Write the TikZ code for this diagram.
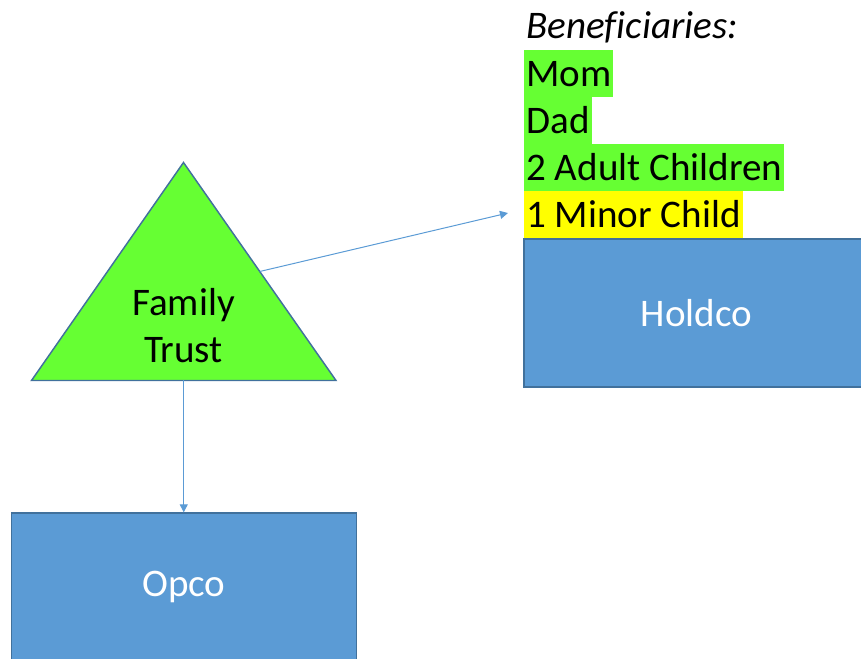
\documentclass[tikz,border=0pt]{standalone}
\usepackage{fontspec}
\setmainfont{Carlito}[Ligatures=NoCommon]
\usetikzlibrary{arrows.meta}
\definecolor{lgreen}{HTML}{66FF33}
\definecolor{boxblue}{HTML}{5B9BD5}
\definecolor{edgeblue}{HTML}{41719C}
\definecolor{hlyellow}{HTML}{FFFF00}
\begin{document}
\begin{tikzpicture}[x=0.75pt,y=-0.75pt,
  bigfont/.style={font=\fontsize{29.3}{35}\selectfont},
  company/.style={draw=edgeblue, line width=1pt, fill=boxblue, text=white,
    minimum width=258.75pt, minimum height=111pt, inner sep=0pt, bigfont},
  trustshape/.style={draw=edgeblue, line width=1.1pt, fill=lgreen, line join=miter},
  hl/.style={anchor=base west, inner xsep=1.5pt, inner ysep=0pt,
    text height=27.75pt, text depth=7.5pt, bigfont},
  conn/.style={draw=boxblue, line width=0.75pt, -{Triangle[length=6pt,width=6pt]}}]
\useasboundingbox (0,0) rectangle (861,659);
\clip (0,0) rectangle (861,659);
% Family trust triangle
\draw[trustshape] (183.5,162.5) coordinate (apex) -- (336,380.5) coordinate (br)
  -- (31.5,380.5) coordinate (bl) -- cycle;
\coordinate (trustR) at (259.75,271.5);
\coordinate (trustB) at (183.75,380.5);
\node[bigfont, anchor=base, text width=200pt, align=center, inner sep=0pt]
  (trust) at (183.5,316) {Family\\Trust};
% Beneficiaries list
\node[hl, font=\fontsize{29.3}{35}\selectfont\itshape] (benhead) at (524,38.5) {Beneficiaries:};
\node[hl, fill=lgreen] (mom) at (524,87) {Mom};
\node[hl, fill=lgreen] (dad) at (524,134) {Dad};
\node[hl, fill=lgreen] (adult) at (524,181) {2 Adult Children};
\node[hl, fill=hlyellow] (minor) at (524,228) {1 Minor Child};
\coordinate (benef) at (508,213);
% Companies
\node[company] (holdco) at (696.5,313) {Holdco};
\node[company] (opco) at (183.75,587) {Opco};
% Connectors
\draw[conn] (trustR) -- (benef);
\draw[conn] (trustB) -- (opco.north);
\end{tikzpicture}
\end{document}
